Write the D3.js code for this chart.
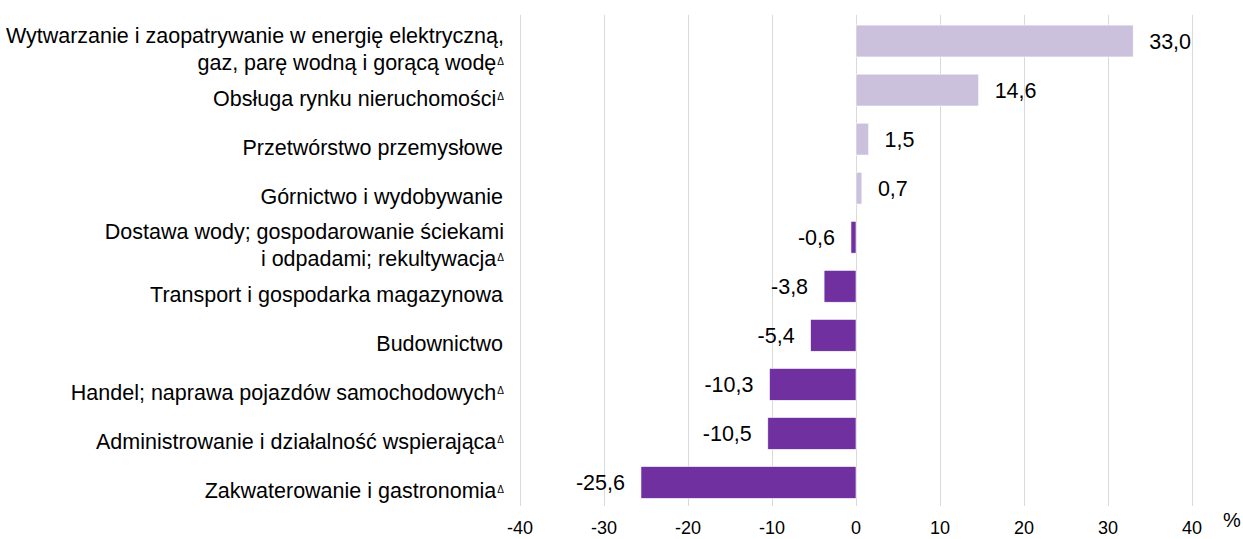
<!DOCTYPE html>
<html>
<head>
<meta charset="utf-8">
<script src="https://cdn.jsdelivr.net/npm/d3@7"></script>
<style>
  body { margin: 0; background: #fff; }
  text { font-family: "Liberation Sans", Arial, sans-serif; fill: #000; }
</style>
</head>
<body>
<div id="chart"></div>
<script>
// Data
var categories = [
  ["Wytwarzanie i zaopatrywanie w energię elektryczną,", "gaz, parę wodną i gorącą wodę"],
  ["Obsługa rynku nieruchomości"],
  ["Przetwórstwo przemysłowe"],
  ["Górnictwo i wydobywanie"],
  ["Dostawa wody; gospodarowanie ściekami", "i odpadami; rekultywacja"],
  ["Transport i gospodarka magazynowa"],
  ["Budownictwo"],
  ["Handel; naprawa pojazdów samochodowych"],
  ["Administrowanie i działalność wspierająca"],
  ["Zakwaterowanie i gastronomia"]
];
var flagged = [true, true, false, false, true, false, false, true, true, true];
var values = [33.0, 14.6, 1.5, 0.7, -0.6, -3.8, -5.4, -10.3, -10.5, -25.6];
var ticks = [-40, -30, -20, -10, 0, 10, 20, 30, 40];

var width = 1243, height = 539;

var svg = d3.select("#chart").append("svg")
  .attr("width", width)
  .attr("height", height);

var x = d3.scaleLinear().domain([-40, 40]).range([520, 1192]);
var y = d3.scaleBand()
  .domain(d3.range(values.length))
  .range([16.5, 507])
  .paddingInner(0.35)
  .paddingOuter(0.175);

// Polish decimal comma, plain hyphen for minus
var fmt = function(v) { return v.toFixed(1).replace(".", ","); };

// gridlines
svg.append("g").selectAll("line")
  .data(ticks).enter().append("line")
  .attr("x1", function(d) { return x(d) + 0.5; })
  .attr("x2", function(d) { return x(d) + 0.5; })
  .attr("y1", 15)
  .attr("y2", 506)
  .attr("stroke", "#d9d9d9")
  .attr("stroke-width", 1);

// tick labels
svg.append("g").selectAll("text")
  .data(ticks).enter().append("text")
  .attr("x", function(d) { return x(d); })
  .attr("y", 534)
  .attr("text-anchor", "middle")
  .attr("font-size", 18)
  .text(function(d) { return String(d); });

svg.append("text")
  .attr("x", 1232)
  .attr("y", 527)
  .attr("text-anchor", "middle")
  .attr("font-size", 20)
  .text("%");

// bars
svg.append("g").selectAll("rect")
  .data(values).enter().append("rect")
  .attr("x", function(d) { return x(Math.min(0, d)); })
  .attr("y", function(d, i) { return y(i); })
  .attr("width", function(d) { return Math.abs(x(d) - x(0)); })
  .attr("height", y.bandwidth())
  .attr("fill", function(d) { return d >= 0 ? "#cbc1dc" : "#7030a0"; })
  .attr("stroke", "#ffffff")
  .attr("stroke-width", 0.6);

// value labels
svg.append("g").selectAll("text")
  .data(values).enter().append("text")
  .attr("x", function(d) { return d >= 0 ? x(d) + 16 : x(d) - 16; })
  .attr("y", function(d, i) { return y(i) + y.bandwidth() / 2; })
  .attr("dy", "0.35em")
  .attr("text-anchor", function(d) { return d >= 0 ? "start" : "end"; })
  .attr("font-size", 21.5)
  .text(fmt);

// category labels
var lineH = 27;
var labels = svg.append("g").selectAll("text")
  .data(categories).enter().append("text")
  .attr("text-anchor", "end")
  .attr("font-size", 21.5)
  .attr("transform", function(d, i) {
    var cy = y(i) + y.bandwidth() / 2 + 8 - (d.length - 1) * lineH / 2;
    return "translate(" + (flagged[i] ? 504 : 503) + "," + cy + ")";
  });

labels.each(function(d, i) {
  var t = d3.select(this);
  d.forEach(function(line, j) {
    t.append("tspan")
      .attr("x", 0)
      .attr("y", j * lineH)
      .attr("dy", "0.35em")
      .text(line);
    if (j == d.length - 1 && flagged[i]) {
      t.append("tspan")
        .attr("font-size", 10)
        .attr("dy", "-0.55em")
        .attr("dx", 1)
        .text("\u0394");
    }
  });
});
</script>
</body>
</html>
